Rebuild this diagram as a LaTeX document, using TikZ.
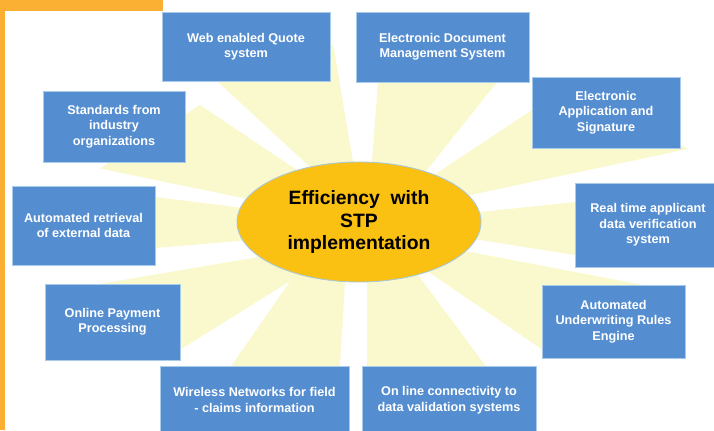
\documentclass[tikz,border=0pt]{standalone}
\usepackage{fontspec}
\setmainfont{Liberation Sans}
\usetikzlibrary{shapes.geometric}

\definecolor{framecol}{HTML}{FBB034}
\definecolor{raycol}{HTML}{FAF8CD}
\definecolor{boxblue}{HTML}{558ED0}
\definecolor{boxedge}{HTML}{A9CBEA}
\definecolor{suncol}{HTML}{FAC012}
\definecolor{sunedge}{HTML}{A8C8D8}

\tikzset{
  ray/.style={fill=raycol},
  hub/.style={ellipse, fill=suncol, draw=sunedge, line width=0.5pt, inner sep=0pt,
    minimum width=4.88cm, minimum height=2.4cm, align=center,
    font=\bfseries\fontsize{11}{12.8}\selectfont},
  topic/.style={rectangle, fill=boxblue, draw=boxedge, line width=0.5pt, text=white,
    inner sep=0pt, align=center, font=\bfseries\fontsize{7.2}{8.8}\selectfont}
}

\begin{document}
\begin{tikzpicture}[x=0.02cm,y=-0.02cm]
\useasboundingbox (0,0) rectangle (714,430);

% rays behind the hub, one per box
\fill[ray] (346.8,201) -- (188.8,55) -- (333.3,45) -- (359.4,200) -- cycle;
\fill[ray] (369,202) -- (380.4,50) -- (522.5,50) -- (399,205.2) -- cycle;
\fill[ray] (399,198.2) -- (575,81.5) -- (688,149) -- (426.4,204.2) -- cycle;
\fill[ray] (432.5,217) -- (620,197.3) -- (620,262.1) -- (432.5,232.5) -- cycle;
\fill[ray] (418,242) -- (670,290.2) -- (552,356.2) -- (397,250.5) -- cycle;
\fill[ray] (398,248) -- (511,400) -- (367,400) -- (367,245) -- cycle;
\fill[ray] (347,248.8) -- (337.9,400) -- (207.7,400) -- (311.3,250.6) -- cycle;
\fill[ray] (332,255) -- (170,356) -- (90,285.6) -- (279,253.6) -- cycle;
\fill[ray] (288,236.8) -- (120,251) -- (120,192.6) -- (287,213.5) -- cycle;
\fill[ray] (283.8,206.4) -- (100,168.5) -- (200,105) -- (335.8,196) -- cycle;

\node[hub] (core) at (359,222) {Efficiency\ \ with\\STP\\implementation};

\node[topic, minimum width=3.36cm, minimum height=1.38cm] (web) at (246,46.5)
  {Web enabled Quote\\system};
\node[topic, minimum width=3.46cm, minimum height=1.40cm] (edms) at (442.5,47)
  {Electronic Document\\Management System};
\node[topic, minimum width=2.84cm, minimum height=1.42cm] (stds) at (114,126.5)
  {Standards from\\industry\\organizations};
\node[topic, minimum width=2.96cm, minimum height=1.42cm] (eapp) at (606,112.5)
  {Electronic\\Application and\\Signature};
\node[topic, minimum width=2.86cm, minimum height=1.58cm] (extdata) at (83.5,225.5)
  {Automated retrieval\\of external data};
\node[topic, minimum width=2.92cm, minimum height=1.68cm] (realtime) at (648,225)
  {Real time applicant\\data verification\\system};
\node[topic, minimum width=2.70cm, minimum height=1.52cm] (payment) at (112.5,322)
  {Online Payment\\Processing};
\node[topic, minimum width=2.86cm, minimum height=1.46cm] (rules) at (613.5,321.5)
  {Automated\\Underwriting Rules\\Engine};
\node[topic, minimum width=3.78cm, minimum height=1.36cm] (wireless) at (254.5,400)
  {Wireless Networks for field\\- claims information};
\node[topic, minimum width=3.48cm, minimum height=1.36cm] (online) at (449,400)
  {On line connectivity to\\data validation systems};

% orange corner frame
\fill[framecol] (0,0) rectangle (163,10.5);
\fill[framecol] (0,0) rectangle (5,430);
\end{tikzpicture}
\end{document}
